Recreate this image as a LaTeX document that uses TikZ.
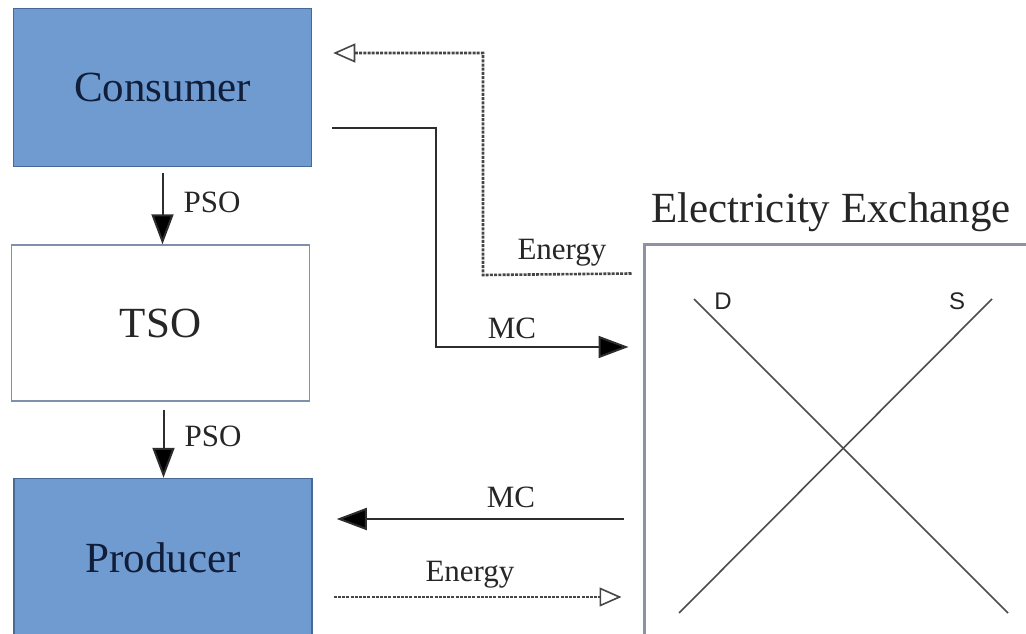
\documentclass[tikz,border=0pt]{standalone}
\usepackage{fontspec}
\setmainfont{Liberation Serif}
\newfontfamily\dsfont{Liberation Sans}
\usetikzlibrary{arrows.meta,calc}
\definecolor{boxblue}{RGB}{112,155,208}
\definecolor{boxedge}{RGB}{72,104,150}
\definecolor{tsoedge}{RGB}{128,144,172}
\definecolor{exedge}{RGB}{140,148,162}
\definecolor{navytext}{RGB}{16,30,58}
\definecolor{linegray}{RGB}{45,45,45}
\definecolor{dotgray}{RGB}{70,70,70}
\begin{document}
\begin{tikzpicture}[x=1pt,y=-1pt,
  bigbox/.style={draw=boxedge, fill=boxblue, line width=1.5pt, minimum width=298pt, minimum height=158pt, inner sep=0pt, font=\fontsize{43}{50}\selectfont, text=navytext},
  tsobox/.style={draw=tsoedge, fill=white, line width=1.5pt, minimum width=298pt, minimum height=156pt, inner sep=0pt, font=\fontsize{43}{50}\selectfont, text=black!85},
  exbox/.style={draw=exedge, fill=white, line width=3pt, minimum width=386pt, minimum height=396pt, inner sep=0pt},
  lbl/.style={anchor=base, inner sep=0pt, font=\fontsize{31}{36}\selectfont, text=black!85},
  sanslbl/.style={anchor=base, inner sep=0pt, font=\dsfont\fontsize{24}{28}\selectfont, text=black!85},
  solidarrow/.style={draw=linegray, line width=2pt, -{Triangle[length=30pt,width=22pt,fill=black]}},
  dotarrow/.style={draw=dotgray, line width=2.6pt, dash pattern=on 3pt off 1.2pt, -{Triangle[open,length=22pt,width=19pt,line width=1.6pt]}},
  curve/.style={draw=black!70, line width=1.6pt}
]
\useasboundingbox (0,0) rectangle (1026,634);
\clip (0,0) rectangle (1026,634);

% boxes
\node[bigbox] (consumer) at (162.5,87.5) {Consumer};
\node[tsobox] (tso) at (160.5,323) {TSO};
\node[bigbox] (producer) at (163,557.5) {Producer};
\node[exbox] (ex) at (837,442) {};
\node[anchor=base, inner sep=0pt, font=\fontsize{43}{50}\selectfont, text=black!85] (extitle) at (831,222) {Electricity Exchange};

% supply / demand lines
\coordinate (d1) at (694,299);
\coordinate (d2) at (1008,613);
\coordinate (s1) at (992,299);
\coordinate (s2) at (679,613);
\draw[curve] (d1) -- (d2);
\draw[curve] (s1) -- (s2);
\node[sanslbl] (dlbl) at (723,309) {D};
\node[sanslbl] (slbl) at (957,309) {S};

% PSO arrows
\coordinate (p1s) at ($(consumer.south)+(0,6)$);
\draw[solidarrow] (p1s) -- (p1s |- tso.north);
\node[lbl] (pso1) at (212,212) {PSO};
\coordinate (p2s) at ($(tso.south)+(3,8)$);
\draw[solidarrow] (p2s) -- (p2s |- producer.north);
\node[lbl] (pso2) at (213,446) {PSO};

% top connectors
\coordinate (eTopStart) at ($(ex.north west)+(-11,31)$);
\coordinate (eTopEnd) at ($(consumer.east)+(21,-34.5)$);
\draw[dotarrow] (eTopStart) -- (483,275) -- (483,53) -- (eTopEnd);
\node[lbl] (energy1) at (562,259) {Energy};

\coordinate (mcTopStart) at ($(consumer.east)+(20,40.5)$);
\coordinate (mcTopEnd) at ($(ex.west)+(-14,-95)$);
\draw[solidarrow] (mcTopStart) -- (436,128) -- (436,347) -- (mcTopEnd);
\node[lbl] (mc1) at (512,338) {MC};

% bottom connectors
\coordinate (mcBotStart) at ($(ex.west)+(-19,77)$);
\coordinate (mcBotEnd) at ($(producer.east)+(24,-38.5)$);
\draw[solidarrow] (mcBotStart) -- (mcBotEnd);
\node[lbl] (mc2) at (511,507) {MC};

\coordinate (eBotStart) at ($(producer.east)+(21,39.5)$);
\coordinate (eBotEnd) at ($(ex.west)+(-21,155)$);
\draw[dotarrow] (eBotStart) -- (eBotEnd);
\node[lbl] (energy2) at (470,581) {Energy};
\end{tikzpicture}
\end{document}
